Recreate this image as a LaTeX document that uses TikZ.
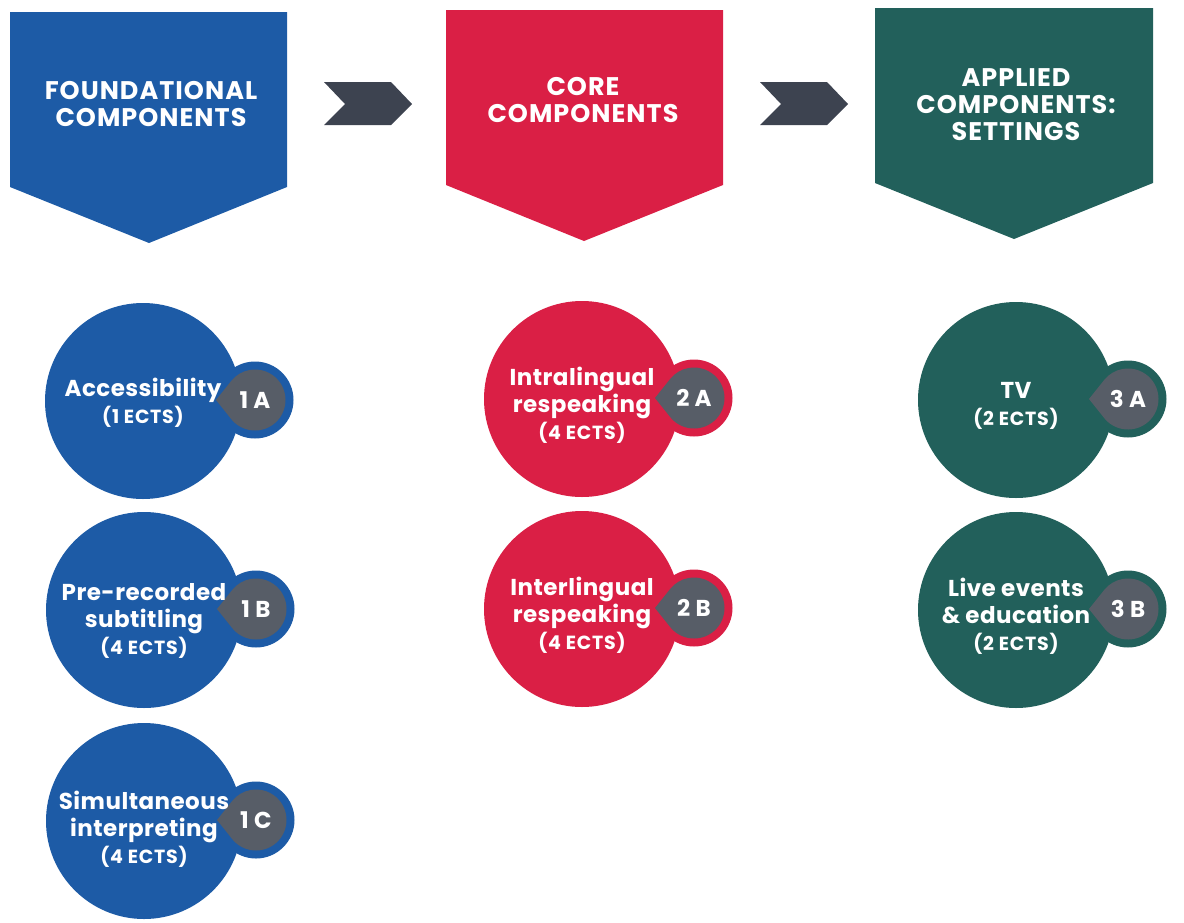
\documentclass[tikz,border=0pt]{standalone}
\usepackage{fontspec}
\setmainfont{Poppins}
\usetikzlibrary{calc}

\definecolor{fblue}{HTML}{1D5BA6}
\definecolor{cred}{HTML}{DA1F45}
\definecolor{agreen}{HTML}{22605B}
\definecolor{badgegray}{HTML}{575D67}
\definecolor{chevgray}{HTML}{3D4350}

\tikzset{
  headertext/.style={text=white, font=\bfseries\fontsize{25.5}{27}\selectfont\addfontfeatures{LetterSpace=4}, align=center, inner sep=0pt},
  disc/.style={circle, inner sep=0pt, minimum size=196pt},
  disctext/.style={text=white, font=\bfseries\fontsize{23}{27}\selectfont\addfontfeatures{LetterSpace=2}, align=center, inner sep=0pt},
  ring/.style={circle, inner sep=0pt, minimum size=77pt},
  badgetext/.style={text=white, font=\bfseries\fontsize{23}{23}\selectfont\addfontfeatures{LetterSpace=2}, inner sep=0pt},
  chevron/.style={fill=chevgray},
}

% one module: disc with its title and a tagged badge on the right
% #1 name, #2 position, #3 colour, #4 text, #5 badge label, #6 vertical text shift
\newcommand{\moduledisc}[6]{%
  \node[disc, fill=#3] (#1) at (#2) {};
  \node[ring, fill=#3] (#1ring) at ($(#1.center)+(112,-1)$) {};
  \fill[badgegray] ([shift={(140:30.5)}]#1ring.center)
      arc[start angle=140, end angle=-140, radius=30.5]
      -- ([shift={(-39,0)}]#1ring.center) -- cycle;
  \node[badgetext] (#1tag) at (#1ring.center) {#5};
  \node[disctext, yshift=#6] (#1text) at (#1.center) {#4};
}
\newcommand{\ects}[1]{{\fontsize{19}{27}\selectfont\addfontfeatures{LetterSpace=4}#1}}

\begin{document}
\begin{tikzpicture}[x=1pt, y=-1pt]
  \useasboundingbox (0,0) rectangle (1184,922);

  % column headers
  \fill[fblue]  (10,12) -- (287,12) -- (287,187) -- (149,243) -- (10,187) -- cycle;
  \node[headertext] (hfound) at (151,104) {FOUNDATIONAL\\COMPONENTS};

  \fill[cred]   (446,10) -- (723,10) -- (723,185) -- (584,241) -- (446,185) -- cycle;
  \node[headertext] (hcore) at (583,100) {CORE\\COMPONENTS};

  \fill[agreen] (875,8) -- (1153,8) -- (1153,183) -- (1014,239) -- (875,183) -- cycle;
  \node[headertext] (happlied) at (1016,105) {APPLIED\\COMPONENTS:\\SETTINGS};

  % chevrons between headers
  \fill[chevron] (324,82) -- (391,82) -- (412,104) -- (391,125) -- (324,125) -- (345,104) -- cycle;
  \fill[chevron] (760,82) -- (827,82) -- (848,104) -- (827,125) -- (760,125) -- (781,104) -- cycle;

  % foundational modules
  \moduledisc{m1a}{143,401}{fblue}{Accessibility\\\ects{(1 ECTS)}}{1 A}{-2pt}
  \moduledisc{m1b}{144,610}{fblue}{Pre-recorded\\subtitling\\\ects{(4 ECTS)}}{1 B}{-11pt}
  \moduledisc{m1c}{144,821}{fblue}{Simultaneous\\interpreting\\\ects{(4 ECTS)}}{1 C}{-8pt}

  % core modules
  \moduledisc{m2a}{582,399}{cred}{Intralingual\\respeaking\\\ects{(4 ECTS)}}{2 A}{-6pt}
  \moduledisc{m2b}{582,609}{cred}{Interlingual\\respeaking\\\ects{(4 ECTS)}}{2 B}{-6pt}

  % applied modules
  \moduledisc{m3a}{1016,400}{agreen}{TV\\\ects{(2 ECTS)}}{3 A}{-6pt}
  \moduledisc{m3b}{1016,610}{agreen}{Live events\\\& education\\\ects{(2 ECTS)}}{3 B}{-6pt}
\end{tikzpicture}
\end{document}
